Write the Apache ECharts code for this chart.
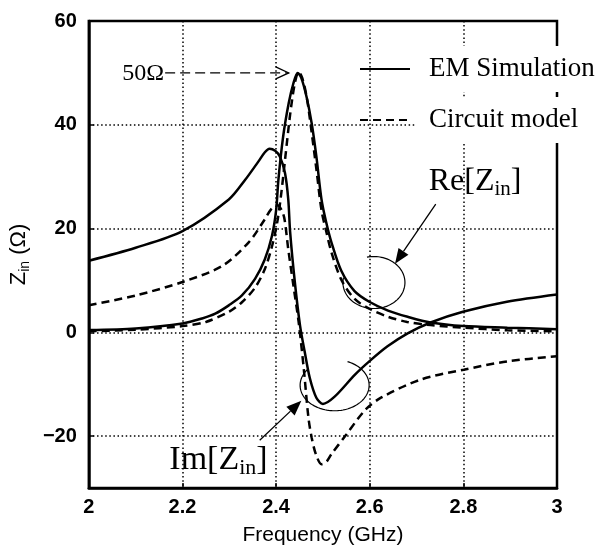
<!DOCTYPE html>
<html><head><meta charset="utf-8">
<script src="https://cdn.jsdelivr.net/npm/echarts@6/dist/echarts.min.js"></script>
<style>html,body{margin:0;padding:0;background:#fff}#c{width:601px;height:551px}</style>
</head><body><div id="c"></div>
<script>
// ---- data (frequency GHz, impedance Ohm) ----
const xTicks = [2, 2.2, 2.4, 2.6, 2.8, 3];
const yTicks = [-20, 0, 20, 40, 60];
const seriesNames = ['EM Simulation', 'Circuit model'];

const emRe = [[2.0,0.44],[2.1,0.76],[2.2,1.72],[2.242,2.68],[2.27,3.6],[2.299,5.2],[2.327,7.1],[2.355,10.3],[2.376,14.1],[2.391,18.5],[2.40,23.5],[2.405,29.5],[2.415,37.7],[2.427,44.2],[2.437,48],[2.446,50.0],[2.454,49],[2.465,45.4],[2.476,40.3],[2.486,33.9],[2.497,25.6],[2.507,21.2],[2.518,17.4],[2.539,11.9],[2.567,8.0],[2.599,5.9],[2.639,4.2],[2.681,3.0],[2.730,1.9],[2.8,1.2],[2.894,0.9],[3.0,0.6]];

const emIm = [[2.0,13.8],[2.1,16.3],[2.2,19.5],[2.299,25.6],[2.334,29.4],[2.362,32.9],[2.376,34.7],[2.386,35.4],[2.398,35.0],[2.408,33.9],[2.419,30.7],[2.426,25.6],[2.430,19.3],[2.440,9.7],[2.451,1.4],[2.461,-3.7],[2.472,-8.8],[2.486,-12.6],[2.500,-13.8],[2.525,-12.4],[2.568,-8.2],[2.599,-5.6],[2.638,-2.7],[2.681,-0.2],[2.730,1.9],[2.801,4.0],[2.893,5.9],[3.0,7.3]];

const cRe = [[2.0,0.2],[2.1,0.5],[2.2,1.2],[2.25,2.0],[2.3,4.0],[2.327,5.8],[2.355,8.6],[2.376,12.2],[2.391,16.5],[2.402,21],[2.41,26],[2.42,34],[2.43,42],[2.44,48],[2.448,50.2],[2.456,49],[2.466,45],[2.476,38.5],[2.486,31.5],[2.497,23.5],[2.507,19.5],[2.518,15.5],[2.539,10.2],[2.567,6.5],[2.6,4.5],[2.639,3.0],[2.68,2.0],[2.73,1.4],[2.8,0.9],[2.894,0.4],[3.0,0.2]];

const cIm = [[2.0,5.2],[2.1,7.1],[2.2,9.7],[2.285,12.8],[2.342,17.4],[2.376,21.8],[2.39,23.8],[2.403,24.5],[2.412,23.5],[2.418,21.8],[2.426,16],[2.437,9.0],[2.448,2.1],[2.459,-6.9],[2.469,-16.4],[2.476,-20.3],[2.485,-23.5],[2.497,-25.4],[2.507,-25],[2.518,-23.5],[2.55,-19.7],[2.589,-15.1],[2.624,-12.6],[2.709,-9.1],[2.801,-7.2],[2.894,-5.6],[3.0,-4.6]];

const serif = '"Liberation Serif", "Times New Roman", serif';
const sans = '"Liberation Sans", Arial, sans-serif';

const chart = echarts.init(document.getElementById('c'), null, {renderer: 'canvas'});

function line(name, data, dashed) {
  return {
    name: name, type: 'line', data: data, symbol: 'none', smooth: 0.3,
    lineStyle: {color: '#000', width: 2.5, type: dashed ? [8, 5] : 'solid'},
    itemStyle: {color: '#000'}, silent: true, animation: false
  };
}

chart.setOption({
  animation: false,
  grid: {left: 86, right: 44, top: 21, bottom: 59, show: true, borderColor: '#000', borderWidth: 2.5, backgroundColor: 'transparent'},
  legend: {
    data: seriesNames, orient: 'vertical', left: 359, top: 46, padding: 0, itemGap: 5,
    itemWidth: 50, itemHeight: 14, selectedMode: false,
    itemStyle: {opacity: 0, borderWidth: 0},
    textStyle: {fontFamily: serif, fontSize: 27, color: '#000', lineHeight: 30, backgroundColor: '#fff', padding: [8, 14, 8, 14]}
  },
  xAxis: {
    type: 'value', min: 2, max: 3, interval: 0.2,
    name: 'Frequency (GHz)', nameLocation: 'middle', nameGap: 37,
    nameTextStyle: {fontFamily: sans, fontSize: 21, color: '#000'},
    axisLine: {show: true, onZero: false, lineStyle: {color: '#000', width: 2.5}},
    axisTick: {show: true, inside: true, length: 5, lineStyle: {color: '#000', width: 1.5}},
    axisLabel: {fontFamily: sans, fontSize: 20, fontWeight: 'bold', color: '#000', margin: 9,
      formatter: v => { const t = xTicks.find(k => Math.abs(k - v) < 1e-6); return t === undefined ? '' : String(t); }},
    splitLine: {show: true, lineStyle: {color: '#000', width: 1.5, type: [1.5, 2.6]}}
  },
  yAxis: {
    type: 'value', min: -30, max: 60,
    name: '{a|Z}{s|in}{a| (Ω)}', nameLocation: 'middle', nameRotate: 90, nameGap: 50,
    nameTextStyle: {color: '#000', rich: {
      a: {fontFamily: sans, fontSize: 22, color: '#000', lineHeight: 26},
      s: {fontFamily: sans, fontSize: 14, color: '#000', lineHeight: 10, verticalAlign: 'bottom'}
    }},
    axisLine: {show: true, onZero: false, lineStyle: {color: '#000', width: 2.5}},
    axisTick: {show: true, inside: true, length: 5, lineStyle: {color: '#000', width: 1.5}},
    axisLabel: {showMinLabel: false, fontFamily: sans, fontSize: 20, fontWeight: 'bold', color: '#000', margin: 12,
      formatter: v => yTicks.includes(v) ? String(v).replace('-', '\u2212') : ''},
    splitLine: {show: true, lineStyle: {color: '#000', width: 1.5, type: [1.5, 2.6]}}
  },
  series: [
    line(seriesNames[0], emRe, false),
    line(seriesNames[0], emIm, false),
    line(seriesNames[1], cRe, true),
    line(seriesNames[1], cIm, true)
  ]
});

// ---- annotations anchored in data space ----
function px(f, v) { return chart.convertToPixel({xAxisIndex: 0, yAxisIndex: 0}, [f, v]); }
function arcPts(c, rx, ry, a0, a1) {
  const pts = [];
  for (let a = a0; a <= a1 + 0.01; a += 3) {
    const r = a * Math.PI / 180;
    pts.push([c[0] + rx * Math.cos(r), c[1] + ry * Math.sin(r)]);
  }
  return pts;
}
function arrow(tail, tip, L, W) {
  const dx = tip[0] - tail[0], dy = tip[1] - tail[1];
  const len = Math.hypot(dx, dy), ux = dx / len, uy = dy / len;
  const bx = tip[0] - ux * L, by = tip[1] - uy * L;
  return [
    {type: 'line', shape: {x1: tail[0], y1: tail[1], x2: bx, y2: by}, style: {stroke: '#000', lineWidth: 1.3}},
    {type: 'polygon', shape: {points: [tip, [bx - uy * W, by + ux * W], [bx + uy * W, by - ux * W]]}, style: {fill: '#000'}}
  ];
}

const g = [];
// 50 Ohm dashed pointer
const p50a = px(2.163, 50), p50b = px(2.427, 50);
g.push({type: 'text', style: {x: p50a[0] - 1, y: p50a[1] + 1, text: '50Ω', font: '24px ' + serif, fill: '#000', align: 'right', verticalAlign: 'middle'}});
g.push({type: 'line', shape: {x1: p50a[0], y1: p50a[1], x2: p50b[0], y2: p50b[1]}, style: {stroke: '#000', lineWidth: 1.3, lineDash: [10, 5]}});
g.push({type: 'polyline', shape: {points: [[p50b[0] - 13, p50b[1] - 6], p50b, [p50b[0] - 13, p50b[1] + 6]]}, style: {stroke: '#000', lineWidth: 1.3, fill: null}});

// Re[Zin]
const reC = px(2.609, 9.6);
g.push({type: 'polyline', shape: {points: arcPts(reC, 31, 26, -103, 193)}, style: {stroke: '#000', lineWidth: 1.2, fill: null}});
arrow(px(2.741, 24.7), px(2.654, 13.2), 15, 6).forEach(e => g.push(e));
const reL = px(2.726, 29.0);
g.push({type: 'text', style: {x: reL[0], y: reL[1], text: '{a|Re[Z}{s|in}{a|]}', align: 'left', verticalAlign: 'middle',
  rich: {a: {fontFamily: serif, fontSize: 32, fill: '#000', lineHeight: 36}, s: {fontFamily: serif, fontSize: 21, fill: '#000', lineHeight: 12, verticalAlign: 'bottom'}}}});

// Im[Zin]
const imC = px(2.525, -10.2);
g.push({type: 'polyline', shape: {points: arcPts(imC, 34.5, 25.5, -68, 222)}, style: {stroke: '#000', lineWidth: 1.2, fill: null}});
arrow(px(2.365, -20.8), px(2.454, -13.2), 15, 6).forEach(e => g.push(e));
const imL = px(2.172, -24.7);
g.push({type: 'text', style: {x: imL[0], y: imL[1], text: '{a|Im[Z}{s|in}{a|]}', align: 'left', verticalAlign: 'middle',
  rich: {a: {fontFamily: serif, fontSize: 34, fill: '#000', lineHeight: 38}, s: {fontFamily: serif, fontSize: 22, fill: '#000', lineHeight: 12, verticalAlign: 'bottom'}}}});

chart.setOption({graphic: g.map(e => Object.assign({silent: true, z: 50}, e))});
</script>
</body></html>
